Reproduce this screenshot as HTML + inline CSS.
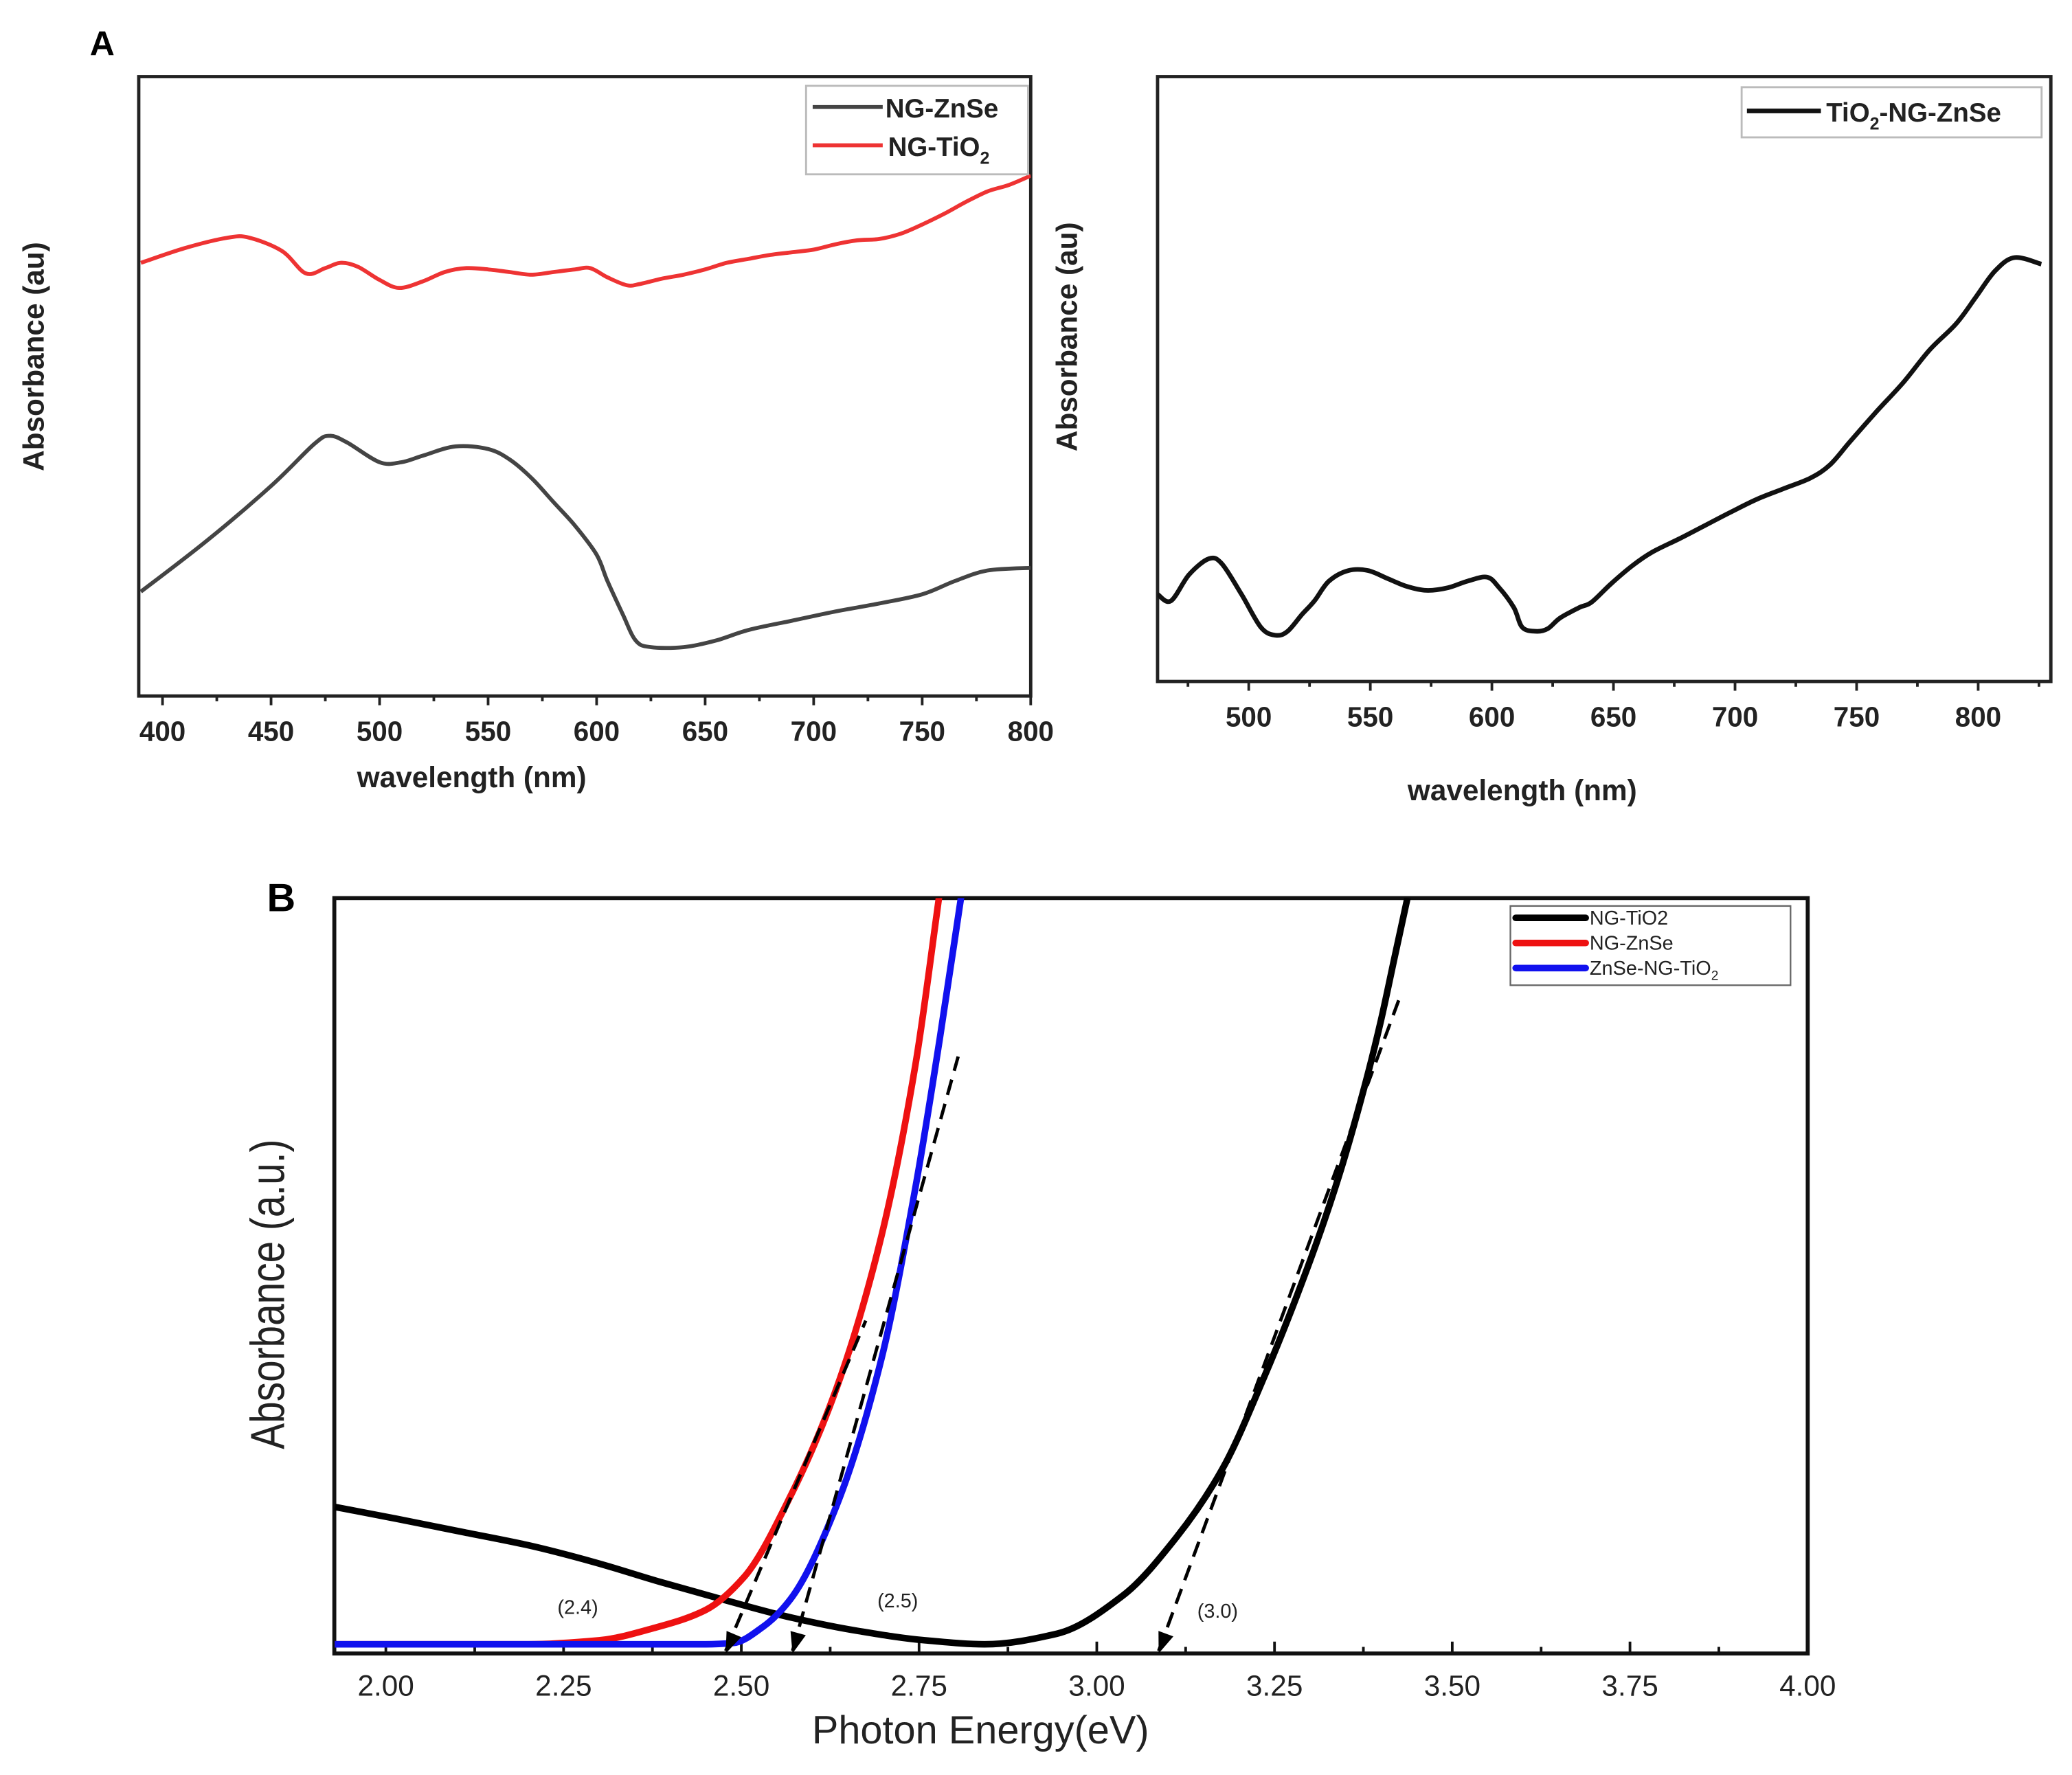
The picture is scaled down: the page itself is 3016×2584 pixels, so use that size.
<!DOCTYPE html>
<html><head><meta charset="utf-8"><style>
html,body{margin:0;padding:0;background:#fff;}
svg{display:block;}
text{font-family:"Liberation Sans",Arial,sans-serif;}
</style></head><body>
<svg id="fig" width="3016" height="2584" viewBox="0 0 1568 1344" preserveAspectRatio="none" xmlns="http://www.w3.org/2000/svg">
<rect x="0" y="0" width="1568" height="1344" fill="#fff"/>
<defs>
<clipPath id="clipA1"><rect x="105" y="58" width="675" height="469"/></clipPath>
<clipPath id="clipA2"><rect x="876" y="58" width="676" height="458"/></clipPath>
<clipPath id="clipB"><rect x="253" y="680" width="1115" height="572"/></clipPath>
</defs>
<text x="68" y="42" font-size="26" font-weight="bold">A</text>
<text x="202" y="690" font-size="30" font-weight="bold">B</text>
<g id="gA1"></g>
<g id="gA2"></g>
<g id="gB"></g>
</svg>
<script>
// ---- Panel A left data ----
const redWl = [390,410,430,440,455,466,475,482,490,500,509,520,530,540,550,560,570,580,590,597,605,614,620,630,640,650,660,670,680,690,700,710,720,730,740,750,760,770,780,790,800];
const redAbs = [328,339,347,347,337,320,324,328,325,315,309,314,321,324,323,321,319,321,323,324,317,311,312,316,319,323,328,331,334,336,338,342,345,346,350,357,365,374,382,387,394];
const grayWl = [390,420,450,470,477,485,500,510,520,535,550,560,570,580,590,600,605,612,618,625,640,655,670,690,710,730,750,765,780,800];
const grayAbs = [79,117,159,191,197,192,177,177,182,189,187,179,165,147,129,107,87,62,42,37,37,42,50,57,64,70,77,87,95,97];
const ticksA1 = [400,450,500,550,600,650,700,750,800];
// ---- Panel A right data ----
const compWl = [462.5,468,475.5,483.7,489,497,505,511,516,522,527,533,541,549,557,565,573,582,590,598,603,609,612.5,618,623,628,636,641,649,658,666,677,687.5,698,709,720,731,739,747,758,769,780,791,799,807,815,826];
const compAbs = [66,61,81,93,89,66,41,35,38,51,61,76,84,84,78,72,69,71,76,79,71,56,41,38,40,48,56,60,74,88,98,108,118,128,138,146,154,164,181,204,226,251,271,291,311,321,316];
const ticksA2 = [500,550,600,650,700,750,800];
// ---- Panel B data ----
const blackE = [1.928,2.015,2.108,2.20,2.294,2.387,2.48,2.572,2.665,2.758,2.842,2.944,3.037,3.112,3.177,3.232,3.288,3.335,3.372,3.40,3.418,3.437];
const blackAbs = [111,102,92,82,69,54,40,27,17,10,7,15,44,88,140,205,280,352,420,480,525,572];
const redE = [1.928,2.20,2.30,2.375,2.45,2.504,2.569,2.634,2.697,2.745,2.779];
const redBAbs = [7,7,10,19,33,58,119,201,316,446,576];
const blueE = [1.928,2.40,2.45,2.489,2.53,2.569,2.634,2.697,2.745,2.779,2.810];
const blueAbs = [7,7,7,8,20,41,112,223,353,465,576];
const tangentE0 = [2.478,2.572,3.087];
const tangentE1 = [2.675,2.805,3.427];
const tangentA1 = [252,452,498];
const gapLabels = ["(2.4)","(2.5)","(3.0)"];
const gapLabelE = [2.27,2.72,3.17];
const gapLabelA = [30,35,27];
const ticksB = [2.00,2.25,2.50,2.75,3.00,3.25,3.50,3.75,4.00];

const NS="http://www.w3.org/2000/svg";
function mk(tag,attrs,parent){const e=document.createElementNS(NS,tag);for(const k in attrs)e.setAttribute(k,attrs[k]);if(parent)parent.appendChild(e);return e;}
function smoothCR(pts){
  let d="M"+pts[0][0].toFixed(1)+","+pts[0][1].toFixed(1);
  for(let i=0;i<pts.length-1;i++){
    const p0=pts[Math.max(0,i-1)],p1=pts[i],p2=pts[i+1],p3=pts[Math.min(pts.length-1,i+2)];
    const c1=[p1[0]+(p2[0]-p0[0])/6,p1[1]+(p2[1]-p0[1])/6];
    const c2=[p2[0]-(p3[0]-p1[0])/6,p2[1]-(p3[1]-p1[1])/6];
    d+="C"+c1[0].toFixed(1)+","+c1[1].toFixed(1)+" "+c2[0].toFixed(1)+","+c2[1].toFixed(1)+" "+p2[0].toFixed(1)+","+p2[1].toFixed(1);
  }
  return d;
}
function smooth(pts){
  const n=pts.length;
  const dx=[],dy=[],m=[];
  for(let i=0;i<n-1;i++){dx.push(pts[i+1][0]-pts[i][0]);dy.push(pts[i+1][1]-pts[i][1]);m.push(dy[i]/dx[i]);}
  const t=[m[0]];
  for(let i=1;i<n-1;i++){
    if(m[i-1]*m[i]<=0)t.push(0);
    else{const w1=2*dx[i]+dx[i-1],w2=dx[i]+2*dx[i-1];t.push((w1+w2)/(w1/m[i-1]+w2/m[i]));}
  }
  t.push(m[n-2]);
  let d="M"+pts[0][0].toFixed(1)+","+pts[0][1].toFixed(1);
  for(let i=0;i<n-1;i++){
    const h=dx[i]/3;
    d+="C"+(pts[i][0]+h).toFixed(1)+","+(pts[i][1]+t[i]*h).toFixed(1)+" "+(pts[i+1][0]-h).toFixed(1)+","+(pts[i+1][1]-t[i+1]*h).toFixed(1)+" "+pts[i+1][0].toFixed(1)+","+pts[i+1][1].toFixed(1);
  }
  return d;
}

// ===== Panel A left =====
(function(){
  const g=document.getElementById('gA1');
  const X0=105,X1=780,Y0=58,Y1=527;
  const xs=w=>123+(w-400)*(657/400);
  const ys=a=>Y1-a;
  const fr=mk('rect',{x:X0,y:Y0,width:X1-X0,height:Y1-Y0,fill:'none',stroke:'#222','stroke-width':2.5},g);
  
  
  for(let w=400;w<=800;w+=25){
    const t=mk('line',{x1:xs(w),x2:xs(w),y1:Y1,y2:Y1+(w%50===0?7:4),stroke:'#222','stroke-width':2},g);
    
    
  }
  ticksA1.forEach(w=>{
    const t=mk('text',{x:xs(w),y:561,'font-size':21,'font-weight':'bold','text-anchor':'middle',fill:'#222'},g);
    t.textContent=w;
    
    
  });
  const xt=mk('text',{x:357,y:596,'font-size':22,'font-weight':'bold','text-anchor':'middle',fill:'#222'},g);
  xt.textContent='wavelength (nm)';
  
  
  const yt=mk('text',{x:0,y:0,'font-size':22,'font-weight':'bold','text-anchor':'middle',fill:'#222',transform:'translate(33,270) rotate(-90)'},g);
  yt.textContent='Absorbance (au)';
  
  
  const cg=mk('g',{'clip-path':'url(#clipA1)'},g);
  const pr=mk('path',{d:smoothCR(redWl.map((w,i)=>[xs(w),ys(redAbs[i])])),fill:'none',stroke:'#ee3333','stroke-width':3,'stroke-linejoin':'round'},cg);
  
  
  const pg=mk('path',{d:smoothCR(grayWl.map((w,i)=>[xs(w),ys(grayAbs[i])])),fill:'none',stroke:'#444','stroke-width':3,'stroke-linejoin':'round'},cg);
  
  
  const lg=mk('g',{},g);
  
  
  mk('rect',{x:610,y:65,width:168,height:67,fill:'#fff',stroke:'#bbb','stroke-width':1.5},lg);
  mk('line',{x1:615,x2:668,y1:81,y2:81,stroke:'#444','stroke-width':3},lg);
  mk('line',{x1:615,x2:668,y1:110,y2:110,stroke:'#ee3333','stroke-width':3},lg);
  const l1=mk('text',{x:670,y:89,'font-size':20,'font-weight':'bold',fill:'#222'},lg);
  l1.textContent='NG-ZnSe';
  
  
  const l2=mk('text',{x:672,y:118,'font-size':20,'font-weight':'bold',fill:'#222'},lg);
  l2.innerHTML='NG-TiO<tspan font-size="13" dy="6">2</tspan>';
  
  
})();

// ===== Panel A right =====
(function(){
  const g=document.getElementById('gA2');
  const X0=876,X1=1552,Y0=58,Y1=516;
  const xs=w=>945+(w-500)*1.84;
  const ys=a=>Y1-a;
  const fr=mk('rect',{x:X0,y:Y0,width:X1-X0,height:Y1-Y0,fill:'none',stroke:'#222','stroke-width':2.5},g);
  
  
  for(let w=475;w<=825;w+=25){
    const t=mk('line',{x1:xs(w),x2:xs(w),y1:Y1,y2:Y1+(w%50===0?7:4),stroke:'#222','stroke-width':2},g);
    
    
  }
  ticksA2.forEach(w=>{
    const t=mk('text',{x:xs(w),y:550,'font-size':21,'font-weight':'bold','text-anchor':'middle',fill:'#222'},g);
    t.textContent=w;
    
    
  });
  const xt=mk('text',{x:1152,y:606,'font-size':22,'font-weight':'bold','text-anchor':'middle',fill:'#222'},g);
  xt.textContent='wavelength (nm)';
  
  
  const yt=mk('text',{x:0,y:0,'font-size':22,'font-weight':'bold','text-anchor':'middle',fill:'#222',transform:'translate(815,255) rotate(-90)'},g);
  yt.textContent='Absorbance (au)';
  
  
  const cg=mk('g',{'clip-path':'url(#clipA2)'},g);
  const p=mk('path',{d:smoothCR(compWl.map((w,i)=>[xs(w),ys(compAbs[i])])),fill:'none',stroke:'#111','stroke-width':3.5,'stroke-linejoin':'round'},cg);
  
  
  const lg=mk('g',{},g);
  
  
  mk('rect',{x:1318,y:66,width:227,height:38,fill:'#fff',stroke:'#bbb','stroke-width':1.5},lg);
  mk('line',{x1:1322,x2:1378,y1:84,y2:84,stroke:'#111','stroke-width':3.5},lg);
  const l1=mk('text',{x:1382,y:92,'font-size':20,'font-weight':'bold',fill:'#222'},lg);
  l1.innerHTML='TiO<tspan font-size="13" dy="6">2</tspan><tspan dy="-6">-NG-ZnSe</tspan>';
  
  
})();

// ===== Panel B =====
(function(){
  const g=document.getElementById('gB');
  const X0=253,X1=1368,Y0=680,Y1=1252;
  const xs=e=>292+(e-2)*538;
  const ys=a=>Y1-a;
  const fr=mk('rect',{x:X0,y:Y0,width:X1-X0,height:Y1-Y0,fill:'none',stroke:'#111','stroke-width':3},g);
  
  
  for(let k=0;k<=16;k++){
    const e=2+k*0.125;
    const t=mk('line',{x1:xs(e),x2:xs(e),y1:Y1,y2:Y1-(k%2===0?9:5),stroke:'#111','stroke-width':2},g);
    
    
  }
  ticksB.forEach(e=>{
    const t=mk('text',{x:xs(e),y:1284,'font-size':22,'text-anchor':'middle',fill:'#222'},g);
    t.textContent=e.toFixed(2);
    
    
  });
  const xt=mk('text',{x:742,y:1320,'font-size':30,'text-anchor':'middle',fill:'#222'},g);
  xt.textContent='Photon Energy(eV)';
  
  
  const yt=mk('text',{x:0,y:0,'font-size':36,'text-anchor':'middle',fill:'#222',transform:'translate(215,980) rotate(-90) scale(0.82,1)'},g);
  yt.textContent='Absorbance (a.u.)';
  
  
  const cg=mk('g',{'clip-path':'url(#clipB)'},g);
  const pb=mk('path',{d:smooth(blackE.map((e,i)=>[xs(e),ys(blackAbs[i])])),fill:'none',stroke:'#000','stroke-width':5,'stroke-linejoin':'round'},cg);
  
  
  const pr=mk('path',{d:smooth(redE.map((e,i)=>[xs(e),ys(redBAbs[i])])),fill:'none',stroke:'#ee1111','stroke-width':5,'stroke-linejoin':'round'},cg);
  
  
  const pu=mk('path',{d:smooth(blueE.map((e,i)=>[xs(e),ys(blueAbs[i])])),fill:'none',stroke:'#1111ee','stroke-width':5,'stroke-linejoin':'round'},cg);
  
  
  tangentE0.forEach((e0,i)=>{
    const x0=xs(e0),y0=ys(0),x1=xs(tangentE1[i]),y1=ys(tangentA1[i]);
    const l=mk('line',{x1:x0,y1:y0-2,x2:x1,y2:y1,stroke:'#000','stroke-width':2.5,'stroke-dasharray':'12,7'},g);
    
    
    const dx=x1-x0,dy=y1-y0,len=Math.hypot(dx,dy),ux=dx/len,uy=dy/len;
    const bx=x0+ux*16,by=y0+uy*16;
    const a=mk('polygon',{points:`${x0},${y0} ${bx-uy*6},${by+ux*6} ${bx+uy*6},${by-ux*6}`,fill:'#000'},g);
    
    
    const t=mk('text',{x:xs(gapLabelE[i]),y:ys(gapLabelA[i]),'font-size':15,'text-anchor':'middle',fill:'#222'},g);
    t.textContent=gapLabels[i];
    
    
  });
  const lg=mk('g',{},g);
  
  
  mk('rect',{x:1143,y:686,width:212,height:60,fill:'#fff',stroke:'#666','stroke-width':1.2},lg);
  [['#000','NG-TiO2',695],['#ee1111','NG-ZnSe',714],['#1111ee','ZnSe-NG-TiO',733]].forEach((d,i)=>{
    mk('line',{x1:1147,x2:1200,y1:d[2],y2:d[2],stroke:d[0],'stroke-width':5,'stroke-linecap':'round'},lg);
    const t=mk('text',{x:1203,y:d[2]+5,'font-size':15,fill:'#222'},lg);
    t.textContent=d[1];
    if(i===2){const s=mk('tspan',{'font-size':10,dy:4},t);s.textContent='2';}
    
    
  });
})();
</script>
</body></html>
